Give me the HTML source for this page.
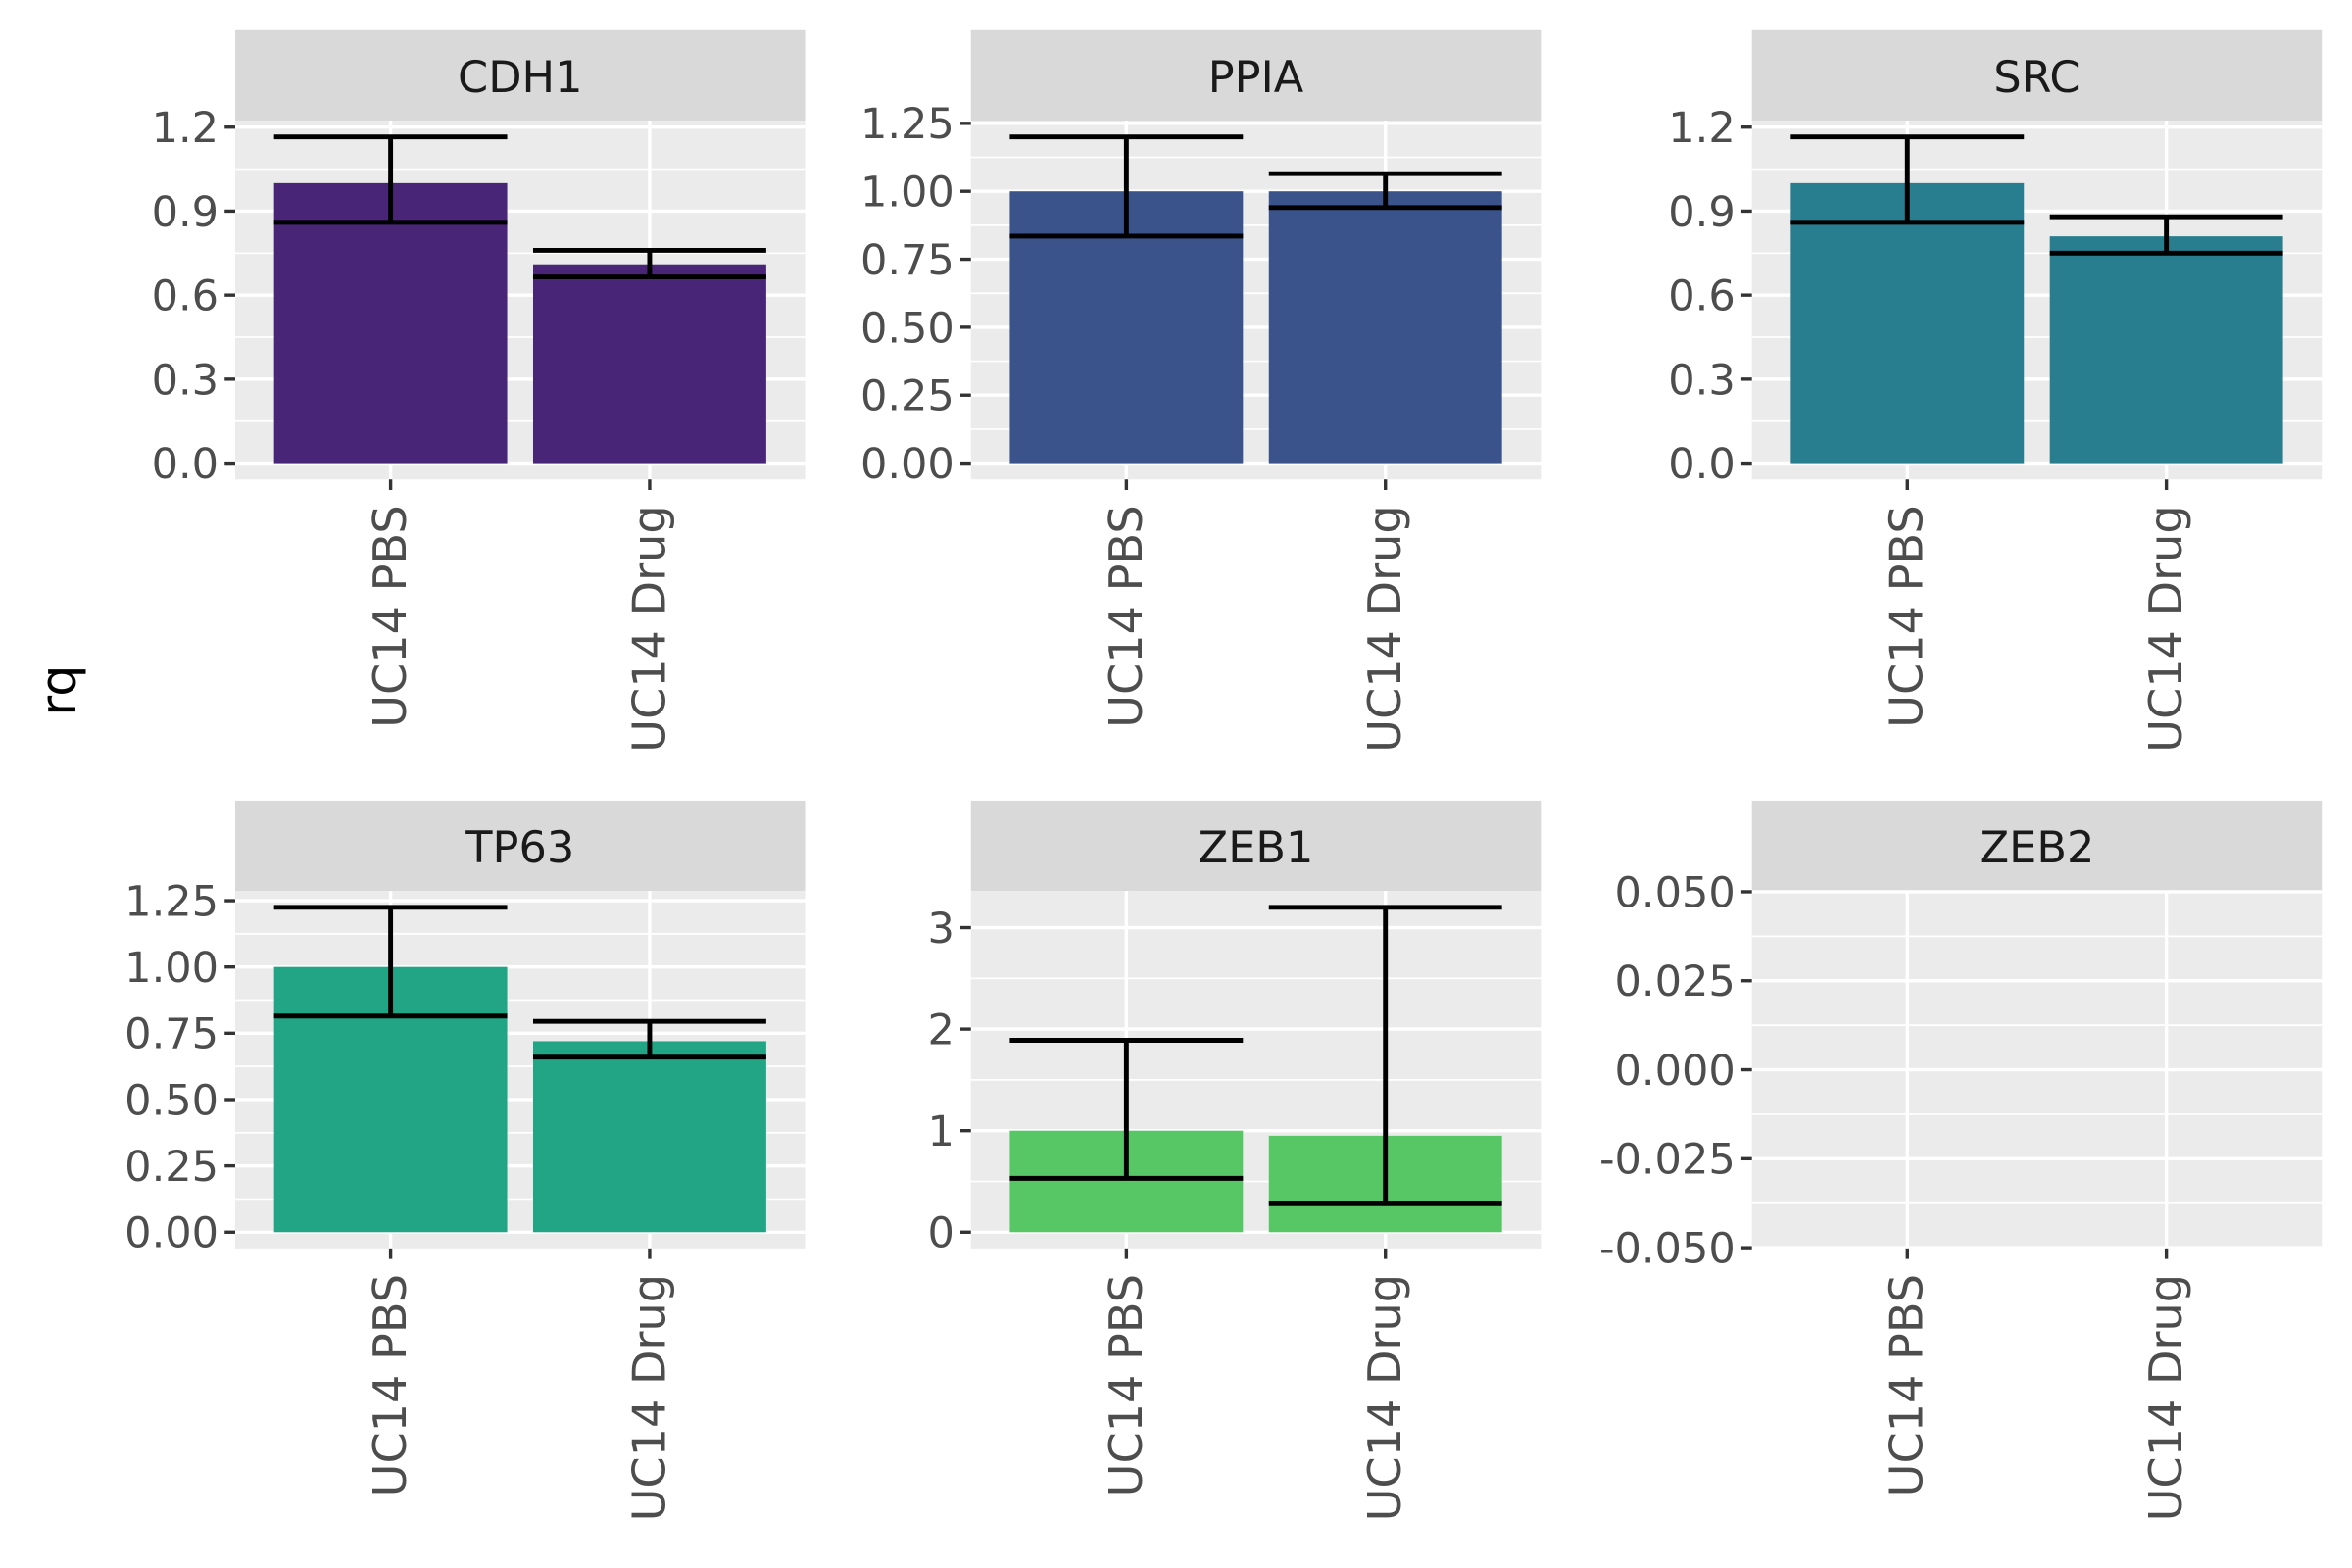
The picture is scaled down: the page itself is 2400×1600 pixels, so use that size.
<!DOCTYPE html>
<html><head><meta charset="utf-8"><style>html,body{margin:0;padding:0;background:#fff}svg{display:block}</style></head>
<body>
<svg id="chart" width="2400" height="1600" viewBox="0 0 1560 1040" xmlns="http://www.w3.org/2000/svg" font-family="'DejaVu Sans','Liberation Sans',sans-serif">
<rect width="1560" height="1040" fill="#fff"/>
<text x="0" y="0" transform="translate(50,458) rotate(-90)" font-size="33" text-anchor="middle" fill="#000">rq</text>
</svg>
<script>
const genes = ["CDH1","PPIA","SRC","TP63","ZEB1","ZEB2"];
const categories = ["UC14 PBS","UC14 Drug"];
const rqPBS = [1.0, 1.0, 1.0, 1.0, 1.0, null];
const rqDrug = [0.71, 1.0, 0.81, 0.72, 0.95, null];
const lowPBS = [0.86, 0.835, 0.86, 0.815, 0.53, null];
const highPBS = [1.165, 1.2, 1.165, 1.225, 1.89, null];
const lowDrug = [0.665, 0.94, 0.75, 0.66, 0.28, null];
const highDrug = [0.76, 1.065, 0.88, 0.795, 3.2, null];
const tickLabels = [
  ["0.0","0.3","0.6","0.9","1.2"],
  ["0.00","0.25","0.50","0.75","1.00","1.25"],
  ["0.0","0.3","0.6","0.9","1.2"],
  ["0.00","0.25","0.50","0.75","1.00","1.25"],
  ["0","1","2","3"],
  ["-0.050","-0.025","0.000","0.025","0.050"]
];
const colors = ["#482576","#3a548b","#287d8e","#21a585","#57c766","#999"];

const svg = document.getElementById('chart');
const NS = "http://www.w3.org/2000/svg";
function mk(tag, attrs, parent) {
  const e = document.createElementNS(NS, tag);
  for (const k in attrs) e.setAttribute(k, attrs[k]);
  (parent || svg).appendChild(e);
  return e;
}
const panelX = [156, 644, 1162];
const rowY = [{strip:20, top:80, bot:318}, {strip:531, top:591, bot:828}];
const PW = 378;

genes.forEach((g, i) => {
  const col = i % 3, row = Math.floor(i / 3);
  const x0 = panelX[col], R = rowY[row];
  const grp = mk('g', {});
  
  
  const st = mk('rect', {x:x0, y:R.strip, width:PW, height:R.top - R.strip, fill:'#d9d9d9'}, grp);
  
  
  const stt = mk('text', {x:x0 + PW/2, y:R.strip + 41, 'font-size':29, 'text-anchor':'middle', fill:'#1a1a1a'}, grp);
  stt.textContent = g;
  
  
  mk('rect', {x:x0, y:R.top, width:PW, height:R.bot - R.top, fill:'#ebebeb'}, grp);
  const ticks = tickLabels[i].map(Number);
  let lo, hi;
  if (rqPBS[i] === null) { lo = ticks[0]; hi = ticks[ticks.length-1]; const pad=(hi-lo)*0.002; lo-=pad; hi+=pad; }
  else {
    const mx = Math.max(highPBS[i], highDrug[i], rqPBS[i], rqDrug[i]);
    const mn = Math.min(0, lowPBS[i], lowDrug[i]);
    const ex = (mx - mn) * 0.05; lo = mn - ex; hi = mx + ex;
  }
  const y = v => R.bot - (v - lo) / (hi - lo) * (R.bot - R.top);
  const step = PW / (categories.length + 0.2);
  const x = k => x0 + step * (k + 0.6);
  for (let t = 0; t < ticks.length - 1; t++) {
    const m = (ticks[t] + ticks[t+1]) / 2;
    mk('line', {x1:x0, x2:x0+PW, y1:y(m), y2:y(m), stroke:'#fff', 'stroke-width':1.1}, grp);
  }
  const dt = ticks[1]-ticks[0];
  [ticks[0]-dt/2, ticks[ticks.length-1]+dt/2].forEach(m => { if (y(m) > R.top && y(m) < R.bot) mk('line', {x1:x0, x2:x0+PW, y1:y(m), y2:y(m), stroke:'#fff', 'stroke-width':1.1}, grp); });
  ticks.forEach((t, j) => {
    mk('line', {x1:x0, x2:x0+PW, y1:y(t), y2:y(t), stroke:'#fff', 'stroke-width':2.2}, grp);
    mk('line', {x1:x0-7, x2:x0, y1:y(t), y2:y(t), stroke:'#333', 'stroke-width':2.2}, grp);
    const tl = mk('text', {x:x0-11, y:y(t)+10, 'font-size':28, 'text-anchor':'end', fill:'#4d4d4d'}, grp);
    tl.textContent = tickLabels[i][j];
    
    
  });
  categories.forEach((c, k) => {
    mk('line', {x1:x(k), x2:x(k), y1:R.top, y2:R.bot, stroke:'#fff', 'stroke-width':2.2}, grp);
    mk('line', {x1:x(k), x2:x(k), y1:R.bot, y2:R.bot+7, stroke:'#333', 'stroke-width':2.2}, grp);
    const xl = mk('text', {x:0, y:0, transform:`translate(${x(k)+10},${R.bot+17}) rotate(-90)`, 'font-size':30, 'text-anchor':'end', fill:'#4d4d4d'}, grp);
    xl.textContent = c;
    
    
  });
  if (rqPBS[i] === null) return;
  const vals = [rqPBS[i], rqDrug[i]], lows = [lowPBS[i], lowDrug[i]], highs = [highPBS[i], highDrug[i]];
  const bw = step * 0.9;
  vals.forEach((v, k) => {
    const b = mk('rect', {x:x(k)-bw/2, y:Math.min(y(v), y(0)), width:bw, height:Math.abs(y(0)-y(v)), fill:colors[i]}, grp);
    
    
  });
  vals.forEach((v, k) => {
    const eg = mk('g', {stroke:'#000', 'stroke-width':3.2}, grp);
    
    
    mk('line', {x1:x(k), x2:x(k), y1:y(lows[k]), y2:y(highs[k])}, eg);
    mk('line', {x1:x(k)-bw/2, x2:x(k)+bw/2, y1:y(lows[k]), y2:y(lows[k])}, eg);
    mk('line', {x1:x(k)-bw/2, x2:x(k)+bw/2, y1:y(highs[k]), y2:y(highs[k])}, eg);
  });
});
</script>
</body></html>
